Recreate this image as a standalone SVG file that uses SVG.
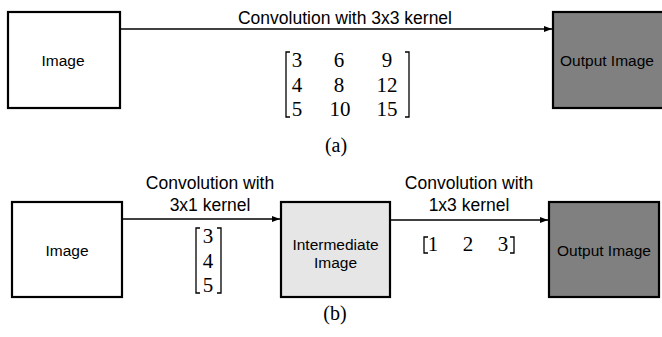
<svg xmlns="http://www.w3.org/2000/svg" width="662" height="337" viewBox="0 0 662 337">
<style>
.box{stroke:#000;stroke-width:2.2}
.lbl{font-family:"Liberation Sans",Arial,sans-serif;font-size:15.5px;fill:#000;text-anchor:middle}
.clbl{font-family:"Liberation Sans",Arial,sans-serif;font-size:17.5px;fill:#000;text-anchor:middle}
.math{font-family:"Liberation Serif","Times New Roman",serif;font-size:21px;fill:#000;text-anchor:middle}
.cap{font-family:"Liberation Serif","Times New Roman",serif;font-size:20px;fill:#000;text-anchor:middle}
.br{fill:none;stroke:#000;stroke-width:1.3}
.conn{stroke:#000;stroke-width:1.5;fill:none}
</style>
<defs>
<marker id="ah" markerWidth="8" markerHeight="6" refX="8" refY="3" orient="auto" markerUnits="userSpaceOnUse">
<path d="M0,0 L8,3 L0,6 Z" fill="#000"/>
</marker>
</defs>
<rect width="662" height="337" fill="#fff"/>

<g id="a-image">
<rect class="box" x="8" y="12" width="112" height="96" fill="#fff"/>
<text class="lbl" x="63" y="66">Image</text>
</g>
<g id="a-output">
<rect class="box" x="553" y="12" width="112" height="96" fill="#808080"/>
<text class="lbl" x="607" y="66">Output Image</text>
</g>

<g id="b-image">
<rect class="box" x="12" y="202" width="110" height="95" fill="#fff"/>
<text class="lbl" x="67" y="256">Image</text>
</g>
<g id="b-intermediate">
<rect class="box" x="281" y="202" width="109" height="95" fill="#e6e6e6"/>
<text class="lbl" x="335.5" y="250">Intermediate</text>
<text class="lbl" x="335.5" y="268">Image</text>
</g>
<g id="b-output">
<rect class="box" x="549" y="202" width="110" height="95" fill="#808080"/>
<text class="lbl" x="604" y="256">Output Image</text>
</g>

<g id="connectors">
<line class="conn" x1="121" y1="29" x2="552" y2="29" marker-end="url(#ah)"/>
<line class="conn" x1="123" y1="219" x2="280" y2="219" marker-end="url(#ah)"/>
<line class="conn" x1="391" y1="220" x2="548" y2="220" marker-end="url(#ah)"/>
</g>

<g id="labels">
<text class="clbl" x="345" y="24">Convolution with 3x3 kernel</text>
<text class="clbl" x="210" y="189">Convolution with</text>
<text class="clbl" x="210" y="211">3x1 kernel</text>
<text class="clbl" x="469" y="189">Convolution with</text>
<text class="clbl" x="469" y="211">1x3 kernel</text>
</g>

<g id="matrix-3x3">
<path class="br" d="M290,52 H286 V117 H290"/>
<path class="br" d="M405,52 H409 V117 H405"/>
<text class="math" x="297" y="67">3</text>
<text class="math" x="339" y="67">6</text>
<text class="math" x="387" y="67">9</text>
<text class="math" x="297" y="92">4</text>
<text class="math" x="339" y="92">8</text>
<text class="math" x="387" y="92">12</text>
<text class="math" x="297" y="116">5</text>
<text class="math" x="340" y="116">10</text>
<text class="math" x="387" y="116">15</text>
</g>

<g id="vector-3x1">
<path class="br" d="M200,228 H196 V293 H200"/>
<path class="br" d="M217,228 H221 V293 H217"/>
<text class="math" x="208" y="243">3</text>
<text class="math" x="208" y="268">4</text>
<text class="math" x="208" y="292">5</text>
</g>

<g id="vector-1x3">
<path class="br" d="M428,237 H424 V253 H428"/>
<path class="br" d="M510,237 H514 V253 H510"/>
<text class="math" x="433" y="251">1</text>
<text class="math" x="468" y="251">2</text>
<text class="math" x="503" y="251">3</text>
</g>

<text class="cap" x="336" y="152">(a)</text>
<text class="cap" x="335" y="320">(b)</text>
</svg>
